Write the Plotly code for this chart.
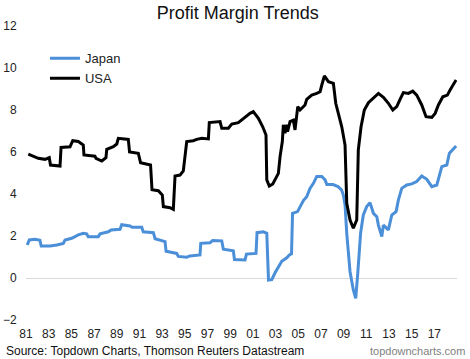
import plotly.graph_objects as go

# ---- data (decimal years, profit margin %) ----
usa_x = [1981.20, 1981.64, 1982.08, 1982.68, 1983.05, 1983.16, 1984.00, 1984.09, 1984.88, 1985.12,
         1985.61, 1986.05, 1986.11, 1987.08, 1987.17, 1987.68, 1988.05, 1988.12, 1988.70, 1989.00,
         1989.14, 1990.02, 1990.13, 1990.90, 1991.10, 1991.98, 1992.11, 1992.67, 1993.02, 1993.11,
         1993.70, 1993.99, 1994.14, 1994.58, 1994.87, 1995.17, 1995.75, 1996.05, 1996.49, 1997.08,
         1997.16, 1998.11, 1998.26, 1998.84, 1999.14, 1999.72, 2000.16, 2000.75, 2001.04, 2001.49,
         2001.87, 2002.16, 2002.23, 2002.45, 2002.76, 2003.05, 2003.25, 2003.40, 2003.60, 2003.69,
         2003.84, 2003.99, 2004.06, 2004.28, 2004.57, 2004.72, 2004.96, 2005.16, 2005.60, 2005.75,
         2006.19, 2006.63, 2006.93, 2007.08, 2007.31, 2007.66, 2008.10, 2008.31, 2008.54, 2008.84,
         2009.13, 2009.28, 2009.57, 2009.86, 2010.16, 2010.30, 2010.54, 2010.83, 2011.19, 2011.63,
         2012.07, 2012.51, 2012.95, 2013.34, 2013.69, 2013.98, 2014.27, 2014.71, 2015.10, 2015.45,
         2015.89, 2016.27, 2016.78, 2017.07, 2017.36, 2017.75, 2018.15, 2018.39, 2018.68, 2018.92]
usa_y = [5.90, 5.80, 5.70, 5.65, 5.73, 5.38, 5.33, 6.22, 6.25, 6.54,
         6.50, 6.33, 5.86, 5.80, 5.70, 5.57, 5.73, 6.13, 6.25, 6.38,
         6.65, 6.60, 6.00, 5.94, 5.49, 5.38, 4.20, 4.16, 3.95, 3.40,
         3.35, 3.27, 4.86, 4.90, 5.10, 6.50, 6.54, 6.60, 6.65, 6.62,
         7.40, 7.45, 7.13, 7.13, 7.33, 7.40, 7.60, 7.84, 7.92, 7.60,
         7.20, 6.81, 4.67, 4.38, 4.48, 4.75, 4.98, 5.78, 6.50, 7.29,
         6.90, 7.30, 6.97, 7.45, 7.52, 7.05, 8.16, 8.00, 8.24, 8.51,
         8.71, 8.79, 8.87, 9.19, 9.62, 9.35, 9.27, 8.32, 7.84, 7.20,
         6.33, 3.56, 2.76, 2.37, 2.76, 6.10, 7.20, 8.00, 8.35, 8.56,
         8.79, 8.60, 8.32, 8.00, 8.16, 8.51, 8.83, 8.79, 8.90, 8.71,
         8.24, 7.68, 7.65, 7.84, 8.24, 8.63, 8.71, 8.95, 9.19, 9.43]

japan_x = [1981.11, 1981.29, 1981.79, 1982.23, 1982.34, 1983.12, 1983.71, 1984.29, 1984.44, 1985.03,
           1985.61, 1986.05, 1986.35, 1986.49, 1987.38, 1987.53, 1988.26, 1988.50, 1989.29, 1989.44,
           1990.17, 1990.35, 1991.20, 1991.34, 1992.23, 1992.38, 1993.26, 1993.35, 1994.29, 1994.43,
           1995.17, 1995.46, 1996.34, 1996.41, 1997.23, 1997.46, 1998.26, 1998.40, 1999.28, 1999.38,
           2000.31, 2000.44, 2001.28, 2001.37, 2001.93, 2002.23, 2002.38, 2002.67, 2002.96, 2003.25,
           2003.55, 2003.99, 2004.22, 2004.41, 2004.50, 2004.94, 2005.21, 2005.47, 2005.75, 2006.04,
           2006.34, 2006.63, 2007.08, 2007.37, 2007.52, 2008.07, 2008.51, 2008.82, 2008.98, 2009.13,
           2009.28, 2009.57, 2009.86, 2010.07, 2010.25, 2010.50, 2010.74, 2011.04, 2011.33, 2011.63,
           2011.93, 2012.07, 2012.37, 2012.51, 2012.95, 2013.25, 2013.63, 2013.83, 2014.13, 2014.57,
           2015.01, 2015.45, 2015.89, 2016.34, 2016.78, 2017.22, 2017.66, 2018.10, 2018.33, 2018.63,
           2018.92]
japan_y = [1.57, 1.81, 1.84, 1.80, 1.52, 1.52, 1.57, 1.65, 1.81, 1.89,
           2.05, 2.13, 2.10, 1.97, 1.97, 2.10, 2.20, 2.29, 2.32, 2.54,
           2.48, 2.42, 2.42, 2.20, 2.16, 1.87, 1.73, 1.27, 1.17, 1.03,
           0.99, 1.05, 1.10, 1.65, 1.68, 1.79, 1.77, 1.37, 1.30, 0.88,
           0.86, 1.14, 1.17, 2.16, 2.20, 2.13, -0.10, -0.08, 0.25, 0.50,
           0.80, 0.96, 1.10, 1.15, 3.08, 3.16, 3.40, 3.70, 3.87, 4.27,
           4.51, 4.83, 4.83, 4.67, 4.45, 4.45, 4.35, 4.20, 3.95, 3.48,
           2.13, 0.30, -0.57, -0.97, 0.22, 2.13, 3.00, 3.40, 3.59, 3.08,
           2.92, 2.52, 1.97, 2.52, 2.29, 3.00, 3.16, 3.71, 4.27, 4.43,
           4.48, 4.59, 4.86, 4.70, 4.35, 4.43, 5.30, 5.38, 5.94, 6.13,
           6.29]

tick_years = list(range(1981, 2019, 2))
tick_labels = ["81", "83", "85", "87", "89", "91", "93", "95", "97", "99",
               "01", "03", "05", "07", "09", "11", "13", "15", "17"]
y_ticks = [-2, 0, 2, 4, 6, 8, 10, 12]

FONT = "Liberation Sans, Arial, sans-serif"

fig = go.Figure()
fig.add_trace(go.Scatter(x=japan_x, y=japan_y, mode="lines", name="Japan",
                         line=dict(color="#4a8fd8", width=3)))
fig.add_trace(go.Scatter(x=usa_x, y=usa_y, mode="lines", name="USA",
                         line=dict(color="#000000", width=3)))

fig.update_layout(
    width=470, height=359, autosize=False,
    margin=dict(l=26, r=13, t=26, b=39, pad=0),
    paper_bgcolor="white", plot_bgcolor="white",
    font=dict(family=FONT, color="#222222", size=12),
    hovermode=False,
    title=dict(text="Profit Margin Trends", x=0.506, xanchor="center",
               y=0.964, yanchor="middle",
               font=dict(family=FONT, size=18, color="#111111")),
    showlegend=True,
    legend=dict(x=0.044, y=0.941, xanchor="left", yanchor="top",
                bgcolor="rgba(0,0,0,0)", font=dict(size=13, color="#222222"),
                itemwidth=30, tracegroupgap=0),
    xaxis=dict(range=[1981, 2019], tickmode="array", tickvals=tick_years,
               ticktext=tick_labels, showgrid=False, zeroline=False, automargin=False,
               showline=False, ticks="outside", ticklen=3, tickcolor="rgba(0,0,0,0)",
               tickfont=dict(size=12, color="#222222")),
    yaxis=dict(range=[-2, 12], tickmode="array", tickvals=y_ticks, automargin=False,
               showgrid=False, zeroline=True, zerolinecolor="#d9d9d9", zerolinewidth=1,
               showline=False, ticks="outside", ticklen=6, tickcolor="rgba(0,0,0,0)",
               tickfont=dict(size=12, color="#222222")),
    annotations=[
        dict(text="Source: Topdown Charts, Thomson Reuters Datastream", xref="paper", yref="paper",
             x=-0.051, y=-0.105, xanchor="left", yanchor="middle", showarrow=False,
             font=dict(family=FONT, size=12, color="#111111")),
        dict(text="topdowncharts.com", xref="paper", yref="paper",
             x=1.023, y=-0.105, xanchor="right", yanchor="middle", showarrow=False,
             font=dict(family=FONT, size=11, color="#7f7f7f")),
    ],
)

fig.write_html("out.html", config={"displayModeBar": False},
               post_script="document.body.style.margin='0px';")
